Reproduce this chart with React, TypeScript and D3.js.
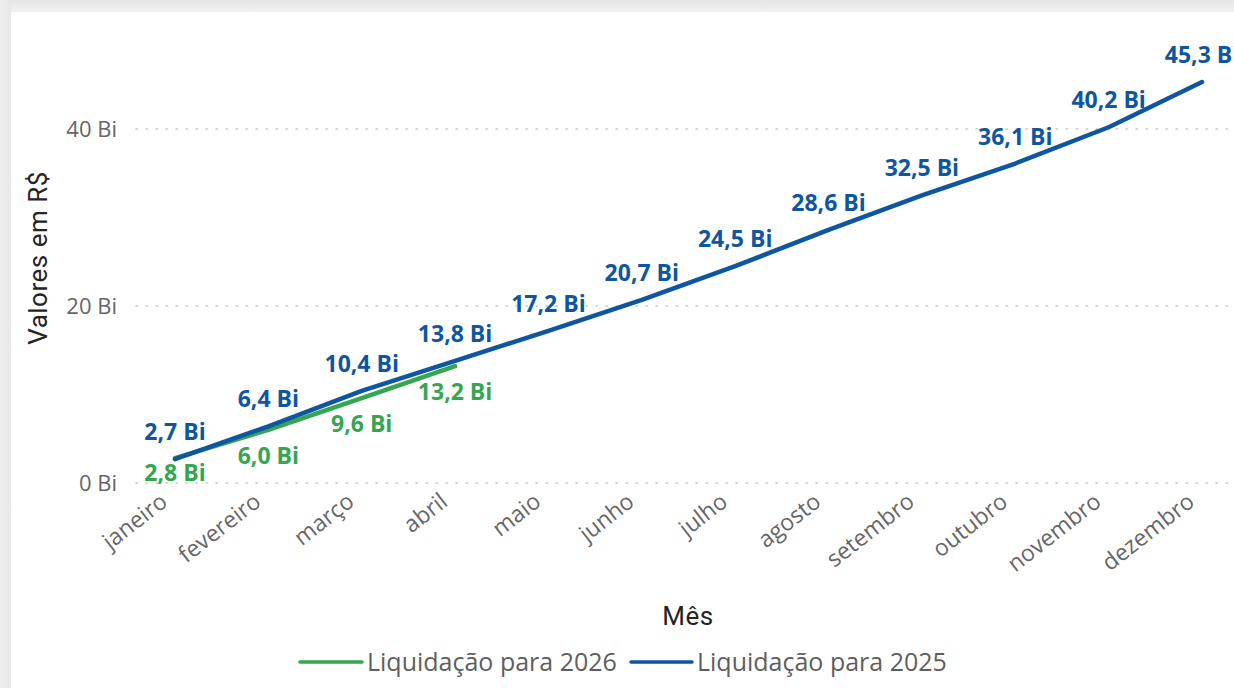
import React from "react";
import * as d3 from "d3";

const meses = ["janeiro", "fevereiro", "março", "abril", "maio", "junho", "julho", "agosto", "setembro", "outubro", "novembro", "dezembro"];
const valores2025 = [2.7, 6.4, 10.4, 13.8, 17.2, 20.7, 24.5, 28.6, 32.5, 36.1, 40.2, 45.3];
const valores2026 = [2.8, 6.0, 9.6, 13.2];
const yTicks = [0, 20, 40];

const AZUL = "#0F56A0";
const VERDE = "#34A650";
const W = 1234;
const H = 688;

const fmt = (v: number) => v.toFixed(1).replace(".", ",") + " Bi";

export default function App() {
  // escalas
  const x = d3.scalePoint<string>().domain(meses).range([175, 1202]);
  const y = d3.scaleLinear().domain([0, 40]).range([483, 129]);

  const line = d3
    .line<number>()
    .x((_, i) => x(meses[i])!)
    .y((d) => y(d));

  const labelFont = "'Open Sans', 'Noto Sans', sans-serif";
  const titleFont = "Roboto, 'DejaVu Sans', sans-serif";

  return (
    <svg width={W} height={H} style={{ position: "absolute", left: 0, top: 0, display: "block" }}>
      <defs>
        <linearGradient id="topShade" x1="0" y1="0" x2="0" y2="1">
          <stop offset="0" stopColor="#e6e6e6" />
          <stop offset="1" stopColor="#f0f0f0" />
        </linearGradient>
        <linearGradient id="leftShade" x1="0" y1="0" x2="1" y2="0">
          <stop offset="0" stopColor="#ececec" />
          <stop offset="1" stopColor="#e8e8e8" />
        </linearGradient>
      </defs>
      {/* fundo e cartão */}
      <rect x={0} y={0} width={W} height={H} fill="#eeeeee" />
      <rect x={0} y={0} width={W} height={12} fill="url(#topShade)" />
      <rect x={0} y={0} width={11} height={H} fill="url(#leftShade)" />
      <rect x={11} y={12} width={W} height={H} fill="#ffffff" />

      {/* grade */}
      {yTicks.map((t) => (
        <g key={t}>
          <line
            x1={136}
            x2={W}
            y1={y(t)}
            y2={y(t)}
            stroke="#c8c8c8"
            strokeWidth={1.5}
            strokeDasharray="1.5 8.5"
            strokeLinecap="round"
          />
          <text
            x={117}
            y={y(t)}
            dy="0.35em"
            textAnchor="end"
            fontFamily={labelFont}
            fontSize={22}
            fill="#666666"
          >
            {t} Bi
          </text>
        </g>
      ))}

      {/* rótulos do eixo x */}
      {meses.map((m) => (
        <text
          key={m}
          transform={`translate(${x(m)! - 11},${498}) rotate(-38)`}
          textAnchor="end"
          dy="0.35em"
          fontFamily={labelFont}
          fontSize={23}
          fill="#666666"
        >
          {m}
        </text>
      ))}

      {/* títulos */}
      <text
        transform="translate(47,258) rotate(-90)"
        textAnchor="middle"
        fontFamily={titleFont}
        fontSize={26}
        letterSpacing={0.5}
        fill="#252423"
      >
        Valores em R$
      </text>
      <text
        x={688}
        y={625}
        textAnchor="middle"
        fontFamily={titleFont}
        fontSize={26}
        letterSpacing={0.5}
        fill="#252423"
      >
        Mês
      </text>

      {/* linhas */}
      <path d={line(valores2026) || ""} fill="none" stroke={VERDE} strokeWidth={4.5} strokeLinecap="round" strokeLinejoin="round" />
      <path d={line(valores2025) || ""} fill="none" stroke={AZUL} strokeWidth={4.5} strokeLinecap="round" strokeLinejoin="round" />

      {/* rótulos de dados */}
      {valores2025.map((v, i) => (
        <text
          key={"a" + i}
          x={x(meses[i])!}
          y={y(v) - 27}
          dy="0.35em"
          textAnchor="middle"
          fontFamily={labelFont}
          fontWeight={700}
          fontSize={23}
          fill={AZUL}
        >
          {fmt(v)}
        </text>
      ))}
      {valores2026.map((v, i) => (
        <text
          key={"v" + i}
          x={x(meses[i])!}
          y={Math.min(y(v) + 26, 473)}
          dy="0.35em"
          textAnchor="middle"
          fontFamily={labelFont}
          fontWeight={700}
          fontSize={23}
          fill={VERDE}
        >
          {fmt(v)}
        </text>
      ))}

      {/* legenda */}
      <line x1={300} x2={362} y1={662} y2={662} stroke={VERDE} strokeWidth={3.5} strokeLinecap="round" />
      <text x={367} y={662} dy="0.35em" fontFamily={labelFont} fontSize={25} fill="#605E5C">
        Liquidação para 2026
      </text>
      <line x1={631} x2={692} y1={662} y2={662} stroke={AZUL} strokeWidth={3.5} strokeLinecap="round" />
      <text x={697} y={662} dy="0.35em" fontFamily={labelFont} fontSize={25} fill="#605E5C">
        Liquidação para 2025
      </text>
    </svg>
  );
}
